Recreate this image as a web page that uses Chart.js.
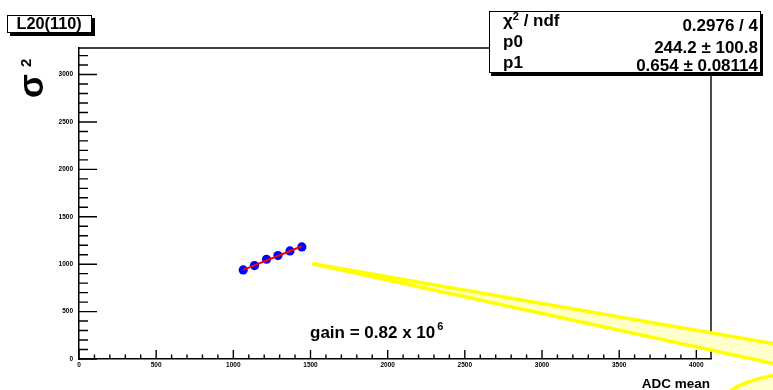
<!DOCTYPE html>
<html>
<head>
<meta charset="utf-8">
<script src="https://cdn.jsdelivr.net/npm/chart.js@4.4.1/dist/chart.umd.min.js"></script>
<style>
body { margin: 0; background: #fff; }
#wrap { position: relative; width: 773px; height: 390px; overflow: hidden; }
.t { position: absolute; font-family: 'Liberation Sans', Arial, sans-serif; font-weight: bold; line-height: 1; white-space: nowrap; color: #000; }
.box { position: absolute; box-sizing: border-box; border: 1px solid #000; background: #fff; }
.sup { position: relative; }
</style>
</head>
<body>
<div id="wrap">
  <canvas id="gainChart"></canvas>

  <!-- histogram title -->
  <div class="box" style="left:7px; top:15px; width:85px; height:18px; box-shadow:3px 3px 0 #000;"></div>
  <div class="t" style="left:16.5px; top:15px; font-size:16.3px;">L20(110)</div>

  <!-- fit statistics -->
  <div class="box" style="left:489px; top:11px; width:272px; height:62px; box-shadow:2px 3px 0 #000;"></div>
  <div class="t" style="left:503px; top:11.6px; font-size:17px;">χ<span class="sup" style="font-size:11px; top:-6px;">2</span> / ndf</div>
  <div class="t" style="left:503px; top:33.3px; font-size:17px;">p0</div>
  <div class="t" style="left:503px; top:53.9px; font-size:17px;">p1</div>
  <div class="t" style="right:15px; top:17.1px; font-size:17px;">0.2976 / 4</div>
  <div class="t" style="right:15px; top:39.1px; font-size:17px;">244.2 ± 100.8</div>
  <div class="t" style="right:15px; top:56.6px; font-size:17px;">0.654 ± 0.08114</div>

  <!-- axis titles -->
  <div class="t" style="left:13px; top:98px; font-size:35px; transform:rotate(-90deg); transform-origin:0 0;">σ<span class="sup" style="font-size:15px; top:-12px; margin-left:7px;">2</span></div>
  <div class="t" style="right:63px; top:376.9px; font-size:13.5px;">ADC mean</div>

  <!-- gain label -->
  <div class="t" style="left:310px; top:323.9px; font-size:17px;">gain = 0.82 x 10<span class="sup" style="font-size:11px; top:-7.6px; margin-left:2px;">6</span></div>
</div>

<script>
// measured points: ADC mean vs sigma^2
const adcMean = [1064, 1137, 1215, 1289, 1367, 1444];
const sigma2 = [939, 985, 1052, 1091, 1140, 1182];

// linear fit parameters (pol1)
const fitP0 = 244.2;
const fitP1 = 0.654;

// axis ranges and labelled ticks
const xRange = [0, 4095];
const yRange = [0, 3280];
const xTicks = [0, 500, 1000, 1500, 2000, 2500, 3000, 3500, 4000];
const yTicks = [0, 500, 1000, 1500, 2000, 2500, 3000];
const minorStep = 100;

// yellow wedge and ellipse drawn over the pad
const wedgeX = [1513, 4700, 4700];
const wedgeY = [1004, 107, -120];
const ellipseCenter = [4749, -460];
const ellipseRadius = [570, 317];

const fitX = [adcMean[0], adcMean[adcMean.length - 1]];

// frame, inward ticks and the yellow shapes
const rootPad = {
    id: 'rootPad',
    beforeDatasetsDraw(chart) {
        const {ctx, chartArea: a, scales: {x, y}} = chart;
        ctx.save();
        ctx.strokeStyle = '#000';
        ctx.lineWidth = 1.4;
        ctx.beginPath();
        ctx.moveTo(a.left, a.top);
        ctx.lineTo(a.right, a.top);
        ctx.lineTo(a.right, a.bottom);
        for (let v = 0; v <= x.max; v += minorStep) {
            const px = x.getPixelForValue(v);
            const len = xTicks.includes(v) ? 9 : 4.5;
            ctx.moveTo(px, a.bottom);
            ctx.lineTo(px, a.bottom - len);
        }
        for (let v = 0; v <= y.max; v += minorStep) {
            const py = y.getPixelForValue(v);
            const len = yTicks.includes(v) ? 18 : 9;
            ctx.moveTo(a.left, py);
            ctx.lineTo(a.left + len, py);
        }
        ctx.stroke();
        ctx.restore();
    },
    afterDatasetsDraw(chart) {
        const {ctx, scales: {x, y}} = chart;
        ctx.save();
        ctx.fillStyle = '#ffffcc';
        ctx.strokeStyle = '#ffff00';
        ctx.lineWidth = 3.5;

        ctx.beginPath();
        wedgeX.forEach((v, i) => {
            const px = x.getPixelForValue(v);
            const py = y.getPixelForValue(wedgeY[i]);
            if (i === 0) ctx.moveTo(px, py); else ctx.lineTo(px, py);
        });
        ctx.closePath();
        ctx.fill();
        ctx.stroke();

        const cx = x.getPixelForValue(ellipseCenter[0]);
        const cy = y.getPixelForValue(ellipseCenter[1]);
        const rx = x.getPixelForValue(ellipseCenter[0] + ellipseRadius[0]) - cx;
        const ry = cy - y.getPixelForValue(ellipseCenter[1] + ellipseRadius[1]);
        ctx.beginPath();
        ctx.ellipse(cx, cy, rx, ry, 0, 0, Math.PI * 2);
        ctx.fill();
        ctx.stroke();
        ctx.restore();
    }
};

const tickFont = {family: "'Liberation Sans', Arial, sans-serif", size: 6.5, weight: 'bold'};
const plainLabel = v => String(v);

new Chart(document.getElementById('gainChart'), {
    type: 'scatter',
    data: {
        datasets: [{
            label: 'fit',
            data: fitX.map(v => ({x: v, y: fitP0 + fitP1 * v})),
            showLine: true,
            borderColor: '#ff0000',
            borderWidth: 2,
            pointRadius: 0,
            order: 0
        }, {
            label: 'L20(110)',
            data: adcMean.map((v, i) => ({x: v, y: sigma2[i]})),
            backgroundColor: '#0000ff',
            borderWidth: 0,
            pointRadius: 4.6,
            order: 1
        }]
    },
    options: {
        responsive: true,
        maintainAspectRatio: false,
        animation: false,
        events: [],
        layout: {padding: {top: 48, right: 62, left: 0, bottom: 0}},
        plugins: {
            legend: {display: false},
            tooltip: {enabled: false}
        },
        scales: {
            x: {
                type: 'linear',
                min: xRange[0],
                max: xRange[1],
                afterFit: s => { s.height = 31; },
                afterBuildTicks: s => { s.ticks = xTicks.map(v => ({value: v})); },
                grid: {display: false, drawTicks: false},
                border: {display: true, color: '#000', width: 1.5},
                ticks: {font: tickFont, color: '#000', padding: 2, autoSkip: false, maxRotation: 0, callback: plainLabel}
            },
            y: {
                type: 'linear',
                min: yRange[0],
                max: yRange[1],
                afterFit: s => { s.width = 79; },
                afterBuildTicks: s => { s.ticks = yTicks.map(v => ({value: v})); },
                grid: {display: false, drawTicks: false},
                border: {display: true, color: '#000', width: 1.5},
                ticks: {font: tickFont, color: '#000', padding: 6, autoSkip: false, callback: plainLabel}
            }
        }
    },
    plugins: [rootPad]
});
</script>
</body>
</html>
